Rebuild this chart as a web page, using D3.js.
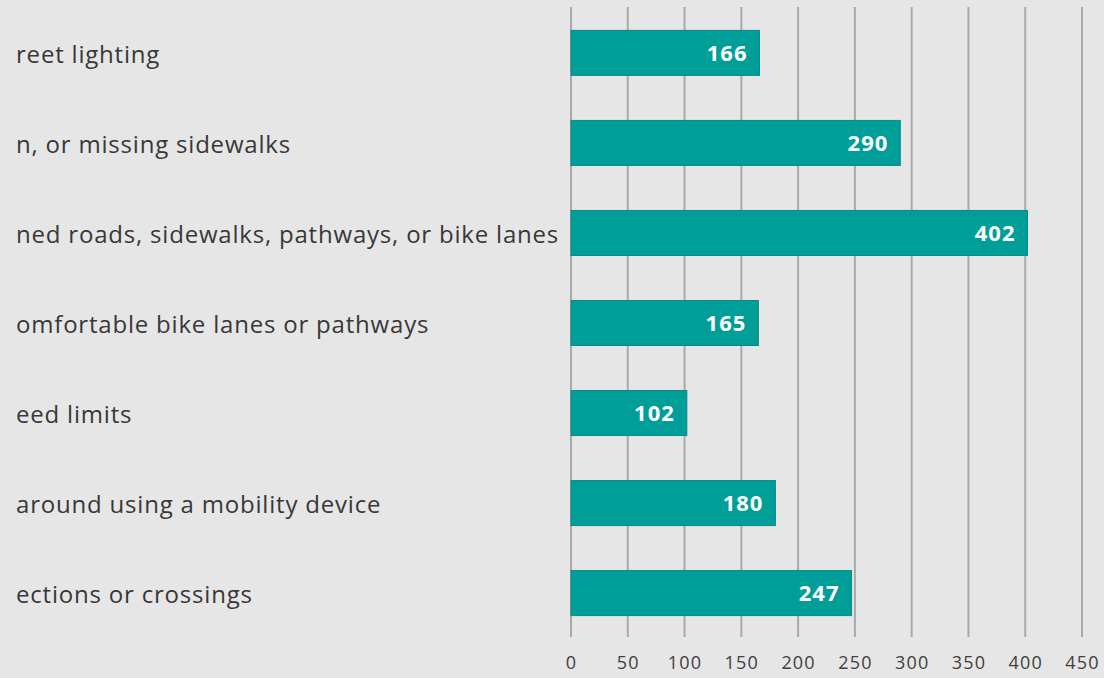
<!DOCTYPE html>
<html>
<head>
<meta charset="utf-8">
<script src="https://cdn.jsdelivr.net/npm/d3@7"></script>
<style>
  body { margin: 0; background: #e6e6e6; }
  svg { display: block; }
</style>
</head>
<body>
<svg id="chart" width="1104" height="678"></svg>
<script>
// category labels (left part is cut off in the source picture)
var labels = ["reet lighting", "n, or missing sidewalks", "ned roads, sidewalks, pathways, or bike lanes",
  "omfortable bike lanes or pathways", "eed limits", "around using a mobility device", "ections or crossings"];
var values = [166, 290, 402, 165, 102, 180, 247];
var ticks = [0, 50, 100, 150, 200, 250, 300, 350, 400, 450];

var svg = d3.select("#chart"),
    margin = {top: 7, left: 571, right: 22, bottom: 41},
    width = +svg.attr("width") - margin.left - margin.right,
    height = +svg.attr("height") - margin.top - margin.bottom;

svg.append("rect").attr("width", 1104).attr("height", 678).attr("fill", "#e6e6e6");

var x = d3.scaleLinear().domain([0, 450]).range([0, width]);
var y = d3.scaleBand().domain(d3.range(labels.length)).range([0, 632]).paddingInner(0.5).paddingOuter(0.26);

var g = svg.append("g").attr("transform", "translate(" + margin.left + "," + margin.top + ")");

// vertical gridlines
g.selectAll(".grid")
  .data(ticks)
  .enter().append("line")
    .attr("x1", function(d) { return x(d); })
    .attr("x2", function(d) { return x(d); })
    .attr("y1", 0)
    .attr("y2", height)
    .attr("stroke", "#a9a9a9")
    .attr("stroke-width", 2);

// tick labels
var xAxis = d3.axisBottom(x).tickValues(ticks).tickSize(0).tickPadding(0);
var ax = g.append("g")
    .attr("transform", "translate(0," + (height + 19) + ")")
    .call(xAxis);
ax.select(".domain").remove();
ax.selectAll("text")
    .attr("font-family", "'Open Sans', sans-serif")
    .attr("font-size", 18)
    .attr("letter-spacing", 1.2)
    .attr("fill", "#404040");

// bars
g.selectAll(".bar")
  .data(values)
  .enter().append("rect")
    .attr("x", x(0))
    .attr("y", function(d, i) { return y(i); })
    .attr("width", function(d) { return x(d) - x(0); })
    .attr("height", y.bandwidth())
    .attr("fill", "#009e99")
    .attr("stroke", "#0b8a86")
    .attr("stroke-width", 1);

// value labels
g.selectAll(".val")
  .data(values)
  .enter().append("text")
    .attr("x", function(d) { return x(d) - 12; })
    .attr("y", function(d, i) { return y(i) + y.bandwidth() / 2; })
    .attr("dy", "0.38em")
    .attr("text-anchor", "end")
    .attr("font-family", "'Open Sans', sans-serif")
    .attr("font-weight", "bold")
    .attr("font-size", 22)
    .attr("letter-spacing", 1)
    .attr("fill", "#ffffff")
    .text(function(d) { return d; });

// category labels
svg.append("g").selectAll(".lab")
  .data(labels)
  .enter().append("text")
    .attr("x", 16)
    .attr("y", function(d, i) { return margin.top + y(i) + y.bandwidth() / 2; })
    .attr("dy", "0.42em")
    .attr("font-family", "'Open Sans', sans-serif")
    .attr("font-size", 24)
    .attr("letter-spacing", 0.8)
    .attr("fill", "#383838")
    .text(function(d) { return d; });
</script>
</body>
</html>
